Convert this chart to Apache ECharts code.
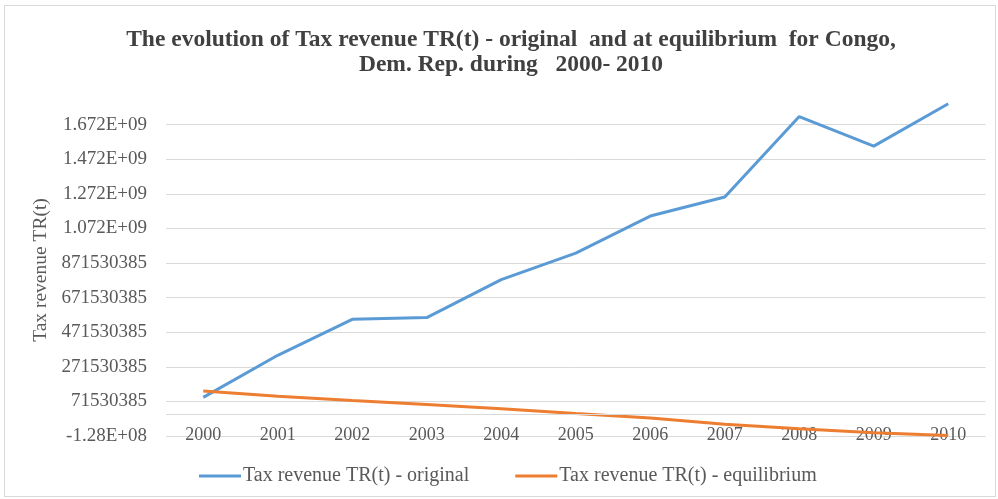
<!DOCTYPE html>
<html>
<head>
<meta charset="utf-8">
<script src="https://cdn.jsdelivr.net/npm/echarts@6/dist/echarts.min.js"></script>
<style>
  html, body { margin: 0; padding: 0; background: #ffffff; }
  #frame { position: absolute; left: 4px; top: 5px; width: 992px; height: 492px; border: 1px solid #d9d9d9; box-sizing: border-box; }
  #chart { position: absolute; left: 0; top: 0; width: 998px; height: 499px; }
</style>
</head>
<body>
<div id="frame"></div>
<div id="chart"></div>
<script>
const years = ['2000','2001','2002','2003','2004','2005','2006','2007','2008','2009','2010'];
const originalValues = [95e6, 338e6, 546e6, 556e6, 775e6, 929e6, 1143e6, 1253e6, 1718e6, 1547e6, 1792e6];
const equilibriumValues = [131e6, 102e6, 77e6, 54e6, 29e6, 1e6, -25e6, -60e6, -86e6, -109e6, -125e6];
const yTickLabels = ['-1.28E+08','71530385','271530385','471530385','671530385','871530385','1.072E+09','1.272E+09','1.472E+09','1.672E+09','1.872E+09'];
const yMin = -128469615;
const yMax = 1871530385;
const yStep = 200000000;

const chart = echarts.init(document.getElementById('chart'), null, { renderer: 'canvas' });
const serif = 'Liberation Serif';
chart.setOption({
  animation: false,
  backgroundColor: 'transparent',
  title: {
    text: 'The evolution of Tax revenue TR(t) - original  and at equilibrium  for Congo,\nDem. Rep. during   2000- 2010',
    left: 506, top: 22, textAlign: 'center',
    textStyle: { fontFamily: serif, fontWeight: 'bold', fontSize: 23.5, color: '#404040', lineHeight: 25 }
  },
  grid: { left: 166, right: 12.5, top: 90, bottom: 63, containLabel: false },
  legend: {
    bottom: 8, left: 194,
    icon: 'rect', itemWidth: 42, itemHeight: 3, itemGap: 46,
    textStyle: { fontFamily: serif, fontSize: 20, color: '#595959', padding: [0, 0, 0, -3] },
    data: ['Tax revenue TR(t) - original', 'Tax revenue TR(t) - equilibrium']
  },
  xAxis: {
    type: 'category', data: years, boundaryGap: true,
    axisLine: { show: false }, axisTick: { show: false },
    axisLabel: { fontFamily: serif, fontSize: 18, color: '#595959', margin: -10 }
  },
  yAxis: {
    type: 'value', min: yMin, max: yMax, interval: yStep,
    name: 'Tax revenue TR(t)', nameLocation: 'middle', nameGap: 115, nameRotate: 90,
    nameTextStyle: { fontFamily: serif, fontSize: 19.5, color: '#595959', padding: [0, 14, 0, 0] },
    axisLine: { show: false }, axisTick: { show: false },
    axisLabel: {
      fontFamily: serif, fontSize: 19, color: '#595959', margin: 19, showMaxLabel: false,
      formatter: function (v) { const i = Math.round((v - yMin) / yStep); return yTickLabels[i] || ''; }
    },
    splitLine: { show: true, showMaxLine: false, lineStyle: { color: '#d9d9d9', width: 1 } }
  },
  series: [
    {
      name: 'Tax revenue TR(t) - original', type: 'line', data: originalValues,
      symbol: 'none', lineStyle: { color: '#5b9bd5', width: 3 }, itemStyle: { color: '#5b9bd5' },
      z: 3,
      markLine: {
        silent: true, symbol: 'none', label: { show: false },
        lineStyle: { color: '#d9d9d9', width: 1, type: 'solid' },
        data: [{ yAxis: 0 }]
      }
    },
    {
      name: 'Tax revenue TR(t) - equilibrium', type: 'line', data: equilibriumValues,
      symbol: 'none', lineStyle: { color: '#ed7d31', width: 3 }, itemStyle: { color: '#ed7d31' },
      z: 4
    }
  ]
});
</script>
</body>
</html>
